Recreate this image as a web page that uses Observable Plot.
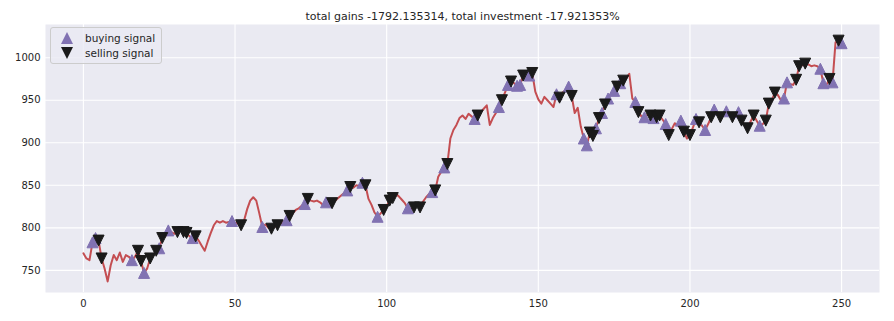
<!DOCTYPE html>
<html><head><meta charset="utf-8">
<script src="https://cdn.jsdelivr.net/npm/d3@7"></script>
<script src="https://cdn.jsdelivr.net/npm/@observablehq/plot@0.6"></script>
<style>
body{margin:0;background:#fff;font-family:"DejaVu Sans",sans-serif;}
#wrap{position:relative;width:894px;height:321px;}
#legend{position:absolute;left:50px;top:27px;width:112px;height:37px;box-sizing:border-box;border:1px solid #cccccc;border-radius:3px;background:rgba(234,234,242,0.8);font-size:10.5px;color:#262626;}
.row{position:absolute;left:0;height:14px;display:flex;align-items:center;}
.row svg{position:absolute;left:10px;top:1px;}
.row span{position:absolute;left:34px;white-space:nowrap;line-height:14px;top:0;}
</style></head><body>
<div id="wrap"></div>
<script>
const title = "total gains -1792.135314, total investment -17.921353%";
const legendLabels = ["buying signal", "selling signal"];
const close = [
770,764,762,783,788,785,764,752,737,756,
768,762,771,760,768,766,762,766,773,761,
747,752,764,768,773,776,788,790,797,795,
793,795,797,795,794,790,788,790,785,779,
773,784,794,803,808,806,808,806,807,808,
806,805,803,809,822,832,836,832,817,801,
804,800,799,801,803,805,807,809,814,817,
821,823,826,828,834,832,831,832,830,827,
830,831,829,832,835,838,841,844,848,847,
850,849,853,850,834,827,818,813,817,821,
826,832,835,840,837,833,829,823,822,824,
826,824,831,836,840,842,844,860,866,871,
875,905,915,921,929,932,928,934,931,928,
932,936,940,944,921,929,935,942,950,959,
968,972,970,967,968,979,976,979,982,960,
951,946,954,950,946,942,957,953,959,962,
966,955,935,941,919,905,897,912,908,917,
929,935,945,952,958,961,966,970,973,976,
981,952,948,936,931,930,933,932,929,930,
932,927,922,909,916,923,920,926,913,905,
909,918,928,924,920,915,922,930,939,935,
930,933,937,934,930,932,936,926,921,917,
925,932,926,920,922,926,946,950,959,956,
950,952,971,969,968,974,990,991,993,992,
990,991,990,987,970,968,975,971,1018,1020,
1017
];
const buyDays = [3,4,16,20,25,28,36,49,59,67,73,80,87,92,97,107,115,119,129,137,140,143,144,147,156,160,165,166,169,171,173,175,177,182,185,188,192,197,202,205,208,212,216,223,231,232,243,244,247,250];
const sellDays = [5,6,18,19,22,24,26,31,33,34,37,52,62,64,68,74,82,88,93,99,101,102,109,111,116,120,130,138,141,145,148,157,161,167,168,170,172,176,178,183,187,189,190,193,198,200,203,207,210,214,217,219,221,225,226,228,235,236,238,246,249];
const xTicks = [0,50,100,150,200,250];
const yTicks = [750,800,850,900,950,1000];

const lineColor = "#c44e52", buyColor = "#8172b2", sellColor = "#1a1a1a";

const triUp = {draw(ctx, size){const r=Math.sqrt(size/Math.PI);ctx.moveTo(0,-r);ctx.lineTo(r,r);ctx.lineTo(-r,r);ctx.closePath();}};
const triDown = {draw(ctx, size){const r=Math.sqrt(size/Math.PI);ctx.moveTo(0,r);ctx.lineTo(r,-r);ctx.lineTo(-r,-r);ctx.closePath();}};

const series = close.map((v,i)=>({i, v}));
const buys = buyDays.map(i=>({i, v: close[i]}));
const sells = sellDays.map(i=>({i, v: close[i]}));

const chart = Plot.plot({
  width: 894, height: 321,
  marginLeft: 45, marginRight: 15, marginTop: 24, marginBottom: 29,
  style: {fontFamily: "DejaVu Sans, sans-serif", fontSize: "10px", color: "#262626", background: "white"},
  x: {domain: [-12.5, 262.5], ticks: xTicks, tickSize: 0, tickPadding: 7, tickFormat: d => String(d), label: null},
  y: {domain: [724, 1039], ticks: yTicks, tickSize: 0, tickPadding: 5, tickFormat: d => String(d), label: null},
  marks: [
    Plot.frame({fill: "#eaeaf2", stroke: null}),
    Plot.ruleX(xTicks, {stroke: "white", strokeWidth: 1.1}),
    Plot.ruleY(yTicks, {stroke: "white", strokeWidth: 1.1}),
    Plot.line(series, {x: "i", y: "v", stroke: lineColor, strokeWidth: 2}),
    Plot.dot(buys, {x: "i", y: "v", symbol: triUp, r: 5.5, fill: buyColor, stroke: buyColor, strokeWidth: 1}),
    Plot.dot(sells, {x: "i", y: "v", symbol: triDown, r: 5.5, fill: sellColor, stroke: sellColor, strokeWidth: 1}),
    Plot.text([title], {frameAnchor: "top", dy: -12, fontSize: 11, fill: "#262626"})
  ]
});
const wrap = document.getElementById("wrap");
wrap.appendChild(chart);

const legend = document.createElement("div");
legend.id = "legend";
const colors = [buyColor, sellColor];
const paths = ["M6,0L12,12L0,12Z", "M0,0L12,0L6,12Z"];
legendLabels.forEach((lab, k) => {
  const row = document.createElement("div");
  row.className = "row";
  row.style.top = (3 + k*15) + "px";
  row.innerHTML = `<svg width="12" height="12" viewBox="0 0 12 12"><path d="${paths[k]}" fill="${colors[k]}"/></svg><span>${lab}</span>`;
  legend.appendChild(row);
});
wrap.appendChild(legend);
</script>
</body></html>
